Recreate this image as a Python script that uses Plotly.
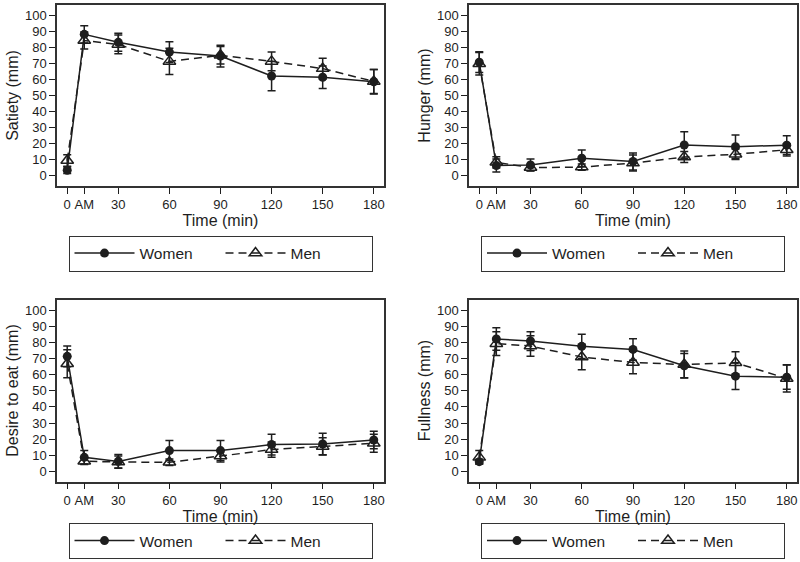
import plotly.graph_objects as go

# x positions (minutes) and their tick labels
time_points = [0, 10, 30, 60, 90, 120, 150, 180]
time_labels = ["0", "AM", "30", "60", "90", "120", "150", "180"]

# Satiety
satiety_women = [3.5, 88.4, 83.4, 77.3, 74.8, 62.4, 61.6, 58.8]
satiety_women_err = [2.0, 5.4, 5.6, 6.5, 6.8, 9.2, 7.0, 7.7]
satiety_men = [9.6, 84.5, 82.1, 71.5, 75.3, 71.5, 67.0, 59.0]
satiety_men_err = [3.6, 5.3, 5.8, 8.2, 5.5, 5.8, 6.5, 7.5]

# Hunger
hunger_women = [71.0, 6.5, 6.8, 11.0, 9.0, 19.3, 18.2, 19.2]
hunger_women_err = [6.5, 4.0, 3.8, 5.2, 5.3, 8.2, 7.3, 5.8]
hunger_men = [70.0, 8.5, 5.2, 5.5, 8.0, 11.8, 13.5, 16.3]
hunger_men_err = [7.0, 3.5, 2.0, 2.0, 5.0, 3.5, 3.3, 3.8]

# Desire to eat
desire_women = [71.4, 8.7, 6.2, 12.9, 12.9, 16.6, 17.0, 19.5]
desire_women_err = [6.4, 4.2, 4.2, 6.2, 6.2, 6.4, 6.7, 5.4]
desire_men = [66.8, 6.3, 5.8, 5.6, 9.5, 13.5, 15.5, 17.4]
desire_men_err = [8.7, 2.0, 3.7, 2.0, 3.7, 4.8, 5.4, 5.6]

# Fullness
fullness_women = [6.0, 82.2, 80.9, 77.6, 75.7, 65.6, 59.1, 58.5]
fullness_women_err = [1.5, 7.0, 5.8, 7.5, 6.7, 7.5, 8.3, 7.5]
fullness_men = [8.7, 79.3, 77.8, 71.0, 67.6, 66.3, 67.4, 57.7]
fullness_men_err = [4.2, 7.3, 6.4, 7.9, 7.0, 8.4, 6.9, 8.5]

panels = [
    ("Satiety (mm)", satiety_women, satiety_women_err, satiety_men, satiety_men_err),
    ("Hunger (mm)", hunger_women, hunger_women_err, hunger_men, hunger_men_err),
    ("Desire to eat (mm)", desire_women, desire_women_err, desire_men, desire_men_err),
    ("Fullness (mm)", fullness_women, fullness_women_err, fullness_men, fullness_men_err),
]

W, H = 800, 562
INK = "#1e1e1e"
FONT = "Liberation Sans, Arial, sans-serif"

# plot-area boxes in window pixels (left, right, top, bottom)
boxes = [(57, 384, 5, 186), (469, 797, 5, 186),
         (57, 384, 299.5, 481.5), (469, 797, 299.5, 481.5)]
y_range = [-6.3, 106.7]
legend_tops = [235.5, 235.5, 523, 523]

fig = go.Figure()
layout = dict(
    width=W, height=H, margin=dict(l=0, r=0, t=0, b=0, autoexpand=False),
    paper_bgcolor="white", plot_bgcolor="white",
    font=dict(family=FONT, color=INK),
    showlegend=True,
)

for i, (ytitle, wv, we, mv, me) in enumerate(panels):
    n = i + 1
    xa = "x" if n == 1 else f"x{n}"
    ya = "y" if n == 1 else f"y{n}"
    lg = "legend" if n == 1 else f"legend{n}"
    fig.add_trace(go.Scatter(
        x=time_points, y=wv, name="Women", xaxis=xa, yaxis=ya, legend=lg,
        mode="lines+markers",
        line=dict(color=INK, width=1.5),
        marker=dict(symbol="circle", size=9, color=INK),
        error_y=dict(type="data", array=we, visible=True, color=INK, thickness=1.5, width=4),
    ))
    fig.add_trace(go.Scatter(
        x=time_points, y=mv, name="Men", xaxis=xa, yaxis=ya, legend=lg,
        mode="lines+markers",
        line=dict(color=INK, width=1.5, dash="8px,5px"),
        marker=dict(symbol="triangle-up-open", size=11, color=INK, line=dict(width=1.5, color=INK)),
        error_y=dict(type="data", array=me, visible=True, color=INK, thickness=1.5, width=4),
    ))
    l, r, t, b = boxes[i]
    xkey = "xaxis" if n == 1 else f"xaxis{n}"
    ykey = "yaxis" if n == 1 else f"yaxis{n}"
    layout[xkey] = dict(
        domain=[l / W, r / W], anchor=ya, range=[-6, 186],
        tickvals=time_points, ticktext=time_labels,
        ticks="outside", ticklen=6, tickwidth=1.2, tickcolor=INK,
        showline=True, linecolor="#333", linewidth=1.5, mirror=True,
        showgrid=False, zeroline=False,
        tickfont=dict(size=13, color=INK),
        title=dict(text="Time (min)", font=dict(size=16, color=INK), standoff=1),
    )
    layout[ykey] = dict(
        domain=[1 - b / H, 1 - t / H], anchor=xa, range=y_range,
        tickvals=list(range(0, 101, 10)),
        ticks="outside", ticklen=6, tickwidth=1.2, tickcolor=INK,
        showline=True, linecolor="#333", linewidth=1.5, mirror=True,
        showgrid=False, zeroline=False,
        tickfont=dict(size=13, color=INK),
        title=dict(text=ytitle, font=dict(size=16, color=INK), standoff=2),
    )
    layout[lg] = dict(
        orientation="h", x=(l + r) / 2 / W, xanchor="center",
        y=1 - legend_tops[i] / H, yanchor="top",
        bordercolor="#333", borderwidth=1, bgcolor="white",
        font=dict(size=15.5, color=INK), itemwidth=60, entrywidth=76,
    )

fig.update_layout(**layout)
# remove the browser's default 8px body margin so the figure fills the window
fig.write_html("out.html",
               config={"displayModeBar": False},
               post_script="document.body.style.margin='0px';document.body.style.overflow='hidden';")
